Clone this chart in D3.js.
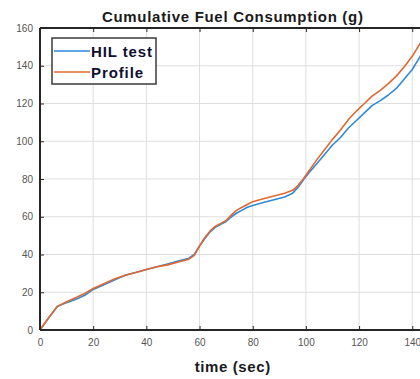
<!DOCTYPE html>
<html>
<head>
<meta charset="utf-8">
<script src="https://cdn.jsdelivr.net/npm/d3@7/dist/d3.min.js"></script>
<style>
  html, body { margin: 0; padding: 0; background: #fff; overflow: hidden; }
  svg { display: block; font-family: Arial, "Liberation Sans", Helvetica, sans-serif; }
</style>
</head>
<body>
<svg id="chart" width="420" height="379"></svg>
<script>
// Sample times (s)
const time = [0, 3, 6.5, 10, 14, 17, 20, 24, 28, 32, 36, 40, 44, 48, 52, 56, 58, 60, 62, 64,
  66, 68, 70, 72, 74, 76, 78, 80, 84, 88, 92, 95, 97, 99, 101, 104, 107, 110, 113, 116,
  119, 122, 125, 128, 131, 134, 137, 140, 143, 145];

// Cumulative fuel, measured on the HIL rig (g)
const hilTest = [0, 6, 12.5, 14.5, 16.5, 18.5, 21.5, 24, 26.5, 29, 30.5, 32, 33.5, 35, 36.5, 38, 40, 44.5, 48.5, 52,
  54.5, 56, 57.5, 60, 62, 63.5, 65, 66, 67.5, 69, 70.5, 72.5, 75.5, 79.5, 83, 88, 93, 98, 102, 107,
  111, 115, 119, 121.5, 124.5, 128, 133, 138, 145, 149];

// Cumulative fuel, reference profile (g)
const profile = [0, 6, 12.5, 15, 17.5, 19.5, 22, 24.5, 27, 29, 30.5, 32, 33.5, 34.5, 36, 37.5, 39.5, 44.5, 49, 52.5,
  55, 56.5, 58, 61, 63.5, 65, 66.5, 68, 69.5, 71, 72.5, 74, 76.5, 80, 84, 90, 95.5, 101, 106, 111.5,
  116, 120, 124, 127, 130.5, 134.5, 139.5, 145, 152, 156];

const xTicks = [0, 20, 40, 60, 80, 100, 120, 140];
const yTicks = [0, 20, 40, 60, 80, 100, 120, 140, 160];
const seriesNames = ["HIL test", "Profile"];
const seriesColors = ["#2e8ad8", "#e2672f"];

const svg = d3.select("#chart");
const mLeft = 40, mTop = 28, mBottom = 330;
const xMax = 145;
const mRight = mLeft + xMax * 2.659;

const x = d3.scaleLinear().domain([0, xMax]).range([mLeft, mRight]);
const y = d3.scaleLinear().domain([0, 160]).range([mBottom, mTop]);

// grid
const grid = svg.append("g").attr("stroke", "#dedede").attr("stroke-width", 1);
grid.selectAll(".gx").data(xTicks.filter(d => d > 0)).join("line")
  .attr("x1", d => x(d)).attr("x2", d => x(d)).attr("y1", mTop).attr("y2", mBottom);
grid.selectAll(".gy").data(yTicks.filter(d => d > 0 && d < 160)).join("line")
  .attr("x1", mLeft).attr("x2", mRight).attr("y1", d => y(d)).attr("y2", d => y(d));

svg.append("clipPath").attr("id", "plotClip")
  .append("rect").attr("x", mLeft).attr("y", mTop).attr("width", mRight - mLeft).attr("height", mBottom - mTop);

const line = d3.line().x((d, i) => x(time[i])).y(d => y(d));
const plot = svg.append("g").attr("clip-path", "url(#plotClip)");
[hilTest, profile].forEach((vals, k) => {
  plot.append("path").datum(vals)
    .attr("fill", "none")
    .attr("stroke", seriesColors[k])
    .attr("stroke-width", 1.6)
    .attr("stroke-linejoin", "round")
    .attr("d", line);
});

// axes (ticks pointing inward)
const axisColor = "#262626";
const xAxis = svg.append("g").attr("transform", `translate(0,${mBottom})`)
  .call(d3.axisBottom(x).tickValues(xTicks).tickSize(-4).tickPadding(9));
const xAxisTop = svg.append("g").attr("transform", `translate(0,${mTop})`)
  .call(d3.axisTop(x).tickValues(xTicks).tickSize(-4).tickFormat(""));
const yAxis = svg.append("g").attr("transform", `translate(${mLeft},0)`)
  .call(d3.axisLeft(y).tickValues(yTicks).tickSize(-4).tickPadding(7));

[xAxis, xAxisTop, yAxis].forEach(g => {
  g.select(".domain").attr("stroke", axisColor).attr("stroke-width", 2);
  g.selectAll(".tick line").attr("stroke", axisColor).attr("stroke-width", 1);
  g.selectAll(".tick text").attr("fill", "#555").style("font-size", "10px")
    .style("font-family", "Arial, 'Liberation Sans', sans-serif");
});
xAxisTop.select(".domain").attr("d", `M${mLeft},0H${mRight}`);
xAxis.select(".domain").attr("d", `M${mLeft},0H${mRight}`);
yAxis.select(".domain").attr("d", `M0,${mTop}V${mBottom}`);

// title and axis label
svg.append("text").attr("x", (mLeft + mRight) / 2).attr("y", 22)
  .attr("text-anchor", "middle").attr("font-weight", "bold").attr("font-size", 15)
  .attr("letter-spacing", 0.7)
  .attr("fill", "#1a1a1a").text("Cumulative Fuel Consumption (g)");
svg.append("text").attr("x", (mLeft + mRight) / 2).attr("y", 372)
  .attr("text-anchor", "middle").attr("font-weight", "bold").attr("font-size", 15)
  .attr("letter-spacing", 0.6)
  .attr("fill", "#1a1a1a").text("time (sec)");

// legend
const leg = svg.append("g");
leg.append("rect").attr("x", 52).attr("y", 38).attr("width", 104).attr("height", 46)
  .attr("fill", "#fff").attr("stroke", "#3a3a3a").attr("stroke-width", 1.5);
seriesNames.forEach((name, k) => {
  const yy = 51 + k * 21;
  leg.append("line").attr("x1", 54).attr("x2", 90).attr("y1", yy).attr("y2", yy)
    .attr("stroke", seriesColors[k]).attr("stroke-width", 1.6);
  leg.append("text").attr("x", 91).attr("y", yy + 5.5)
    .attr("font-weight", "bold").attr("font-size", 15).attr("letter-spacing", 0.9)
    .attr("fill", "#101030")
    .text(name);
});
</script>
</body>
</html>
